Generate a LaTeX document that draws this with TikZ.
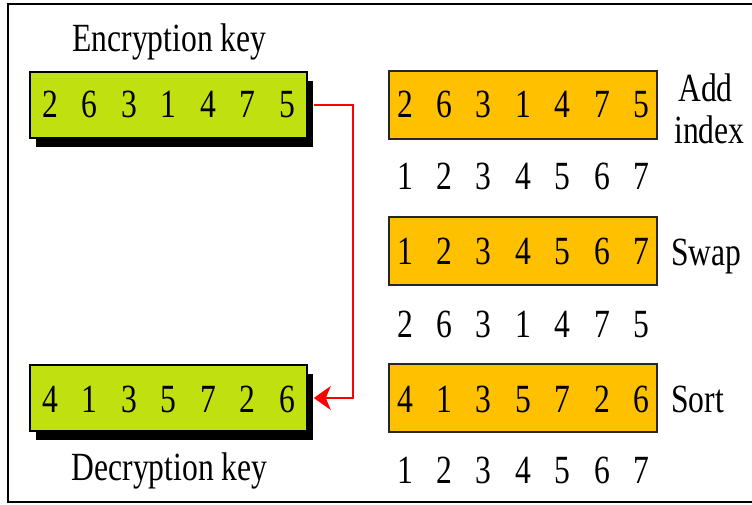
\documentclass[tikz,border=0pt]{standalone}
\usepackage{fontspec}
\setmainfont{Liberation Serif}
\usetikzlibrary{arrows.meta}
\definecolor{keygreen}{RGB}{192,224,16}
\definecolor{steporange}{RGB}{255,192,0}
\definecolor{arrowred}{RGB}{255,0,0}
\newcommand{\sqz}[1]{\scalebox{0.79}[1]{#1}}
\begin{document}
\begin{tikzpicture}[x=1pt,y=1pt,
  txt/.style={inner sep=0pt, font=\fontsize{40}{42}\selectfont},
  keybox/.style={draw=black, line width=1.6pt, fill=keygreen, minimum width=277pt, minimum height=66pt, inner sep=0pt},
  shadowbox/.style={fill=black, minimum width=277pt, minimum height=66pt, inner sep=0pt},
  stepbox/.style={draw=black!85, line width=1.4pt, fill=steporange, minimum width=268pt, minimum height=68pt, inner sep=0pt},
  redarrow/.style={draw=arrowred, line width=1.8pt, -{Stealth[length=17pt,width=24pt,inset=5pt]}}]
\useasboundingbox (0,0) rectangle (752,-505);
\draw[line width=2.5pt] (752,-4) -- (8,-4) -- (8,-502) -- (752,-502);

% left key boxes with shadows
\node[shadowbox] (encsh) at (174.5,-114) {};
\node[keybox] (enc) at (168.5,-105) {};
\node[shadowbox] (decsh) at (174.5,-407) {};
\node[keybox] (dec) at (168.5,-398) {};
\foreach \d [count=\i] in {2,6,3,1,4,7,5}
  \node[txt, anchor=base] (enc\i) at ({50+39.5*(\i-1)},-118) {\sqz{\d}};
\foreach \d [count=\i] in {4,1,3,5,7,2,6}
  \node[txt, anchor=base] (dec\i) at ({50+39.5*(\i-1)},-412) {\sqz{\d}};
\node[txt, anchor=base] (enclbl) at (169.5,-52) {\sqz{Encryption key}};
\node[txt, anchor=base] (declbl) at (169.5,-480) {\sqz{Decryption key}};

% right step boxes
\node[stepbox] (addbox) at (523,-105) {};
\node[stepbox] (swapbox) at (523,-251) {};
\node[stepbox] (sortbox) at (523,-398) {};
\foreach \d [count=\i] in {2,6,3,1,4,7,5}
  \node[txt, anchor=base] (a\i) at ({405+39.4*(\i-1)},-118) {\sqz{\d}};
\foreach \d [count=\i] in {1,2,3,4,5,6,7}
  \node[txt, anchor=base] (ai\i) at ({405+39.4*(\i-1)},-190) {\sqz{\d}};
\foreach \d [count=\i] in {1,2,3,4,5,6,7}
  \node[txt, anchor=base] (s\i) at ({405+39.4*(\i-1)},-264) {\sqz{\d}};
\foreach \d [count=\i] in {2,6,3,1,4,7,5}
  \node[txt, anchor=base] (si\i) at ({405+39.4*(\i-1)},-337) {\sqz{\d}};
\foreach \d [count=\i] in {4,1,3,5,7,2,6}
  \node[txt, anchor=base] (r\i) at ({405+39.4*(\i-1)},-412) {\sqz{\d}};
\foreach \d [count=\i] in {1,2,3,4,5,6,7}
  \node[txt, anchor=base] (ri\i) at ({405+39.4*(\i-1)},-483) {\sqz{\d}};

\node[txt, anchor=base] (addlbl) at (705.5,-102) {\sqz{Add}};
\node[txt, anchor=base] (idxlbl) at (709.5,-144) {\sqz{index}};
\node[txt, anchor=base west] (swaplbl) at (671,-265) {\sqz{Swap}};
\node[txt, anchor=base west] (sortlbl) at (671,-412) {\sqz{Sort}};

% red connector
\coordinate (encout) at ([xshift=6pt]enc.east);
\coordinate (decin) at ([xshift=6pt]dec.east);
\draw[redarrow] (encout) -- ++(39,0) |- (decin);
\end{tikzpicture}
\end{document}
